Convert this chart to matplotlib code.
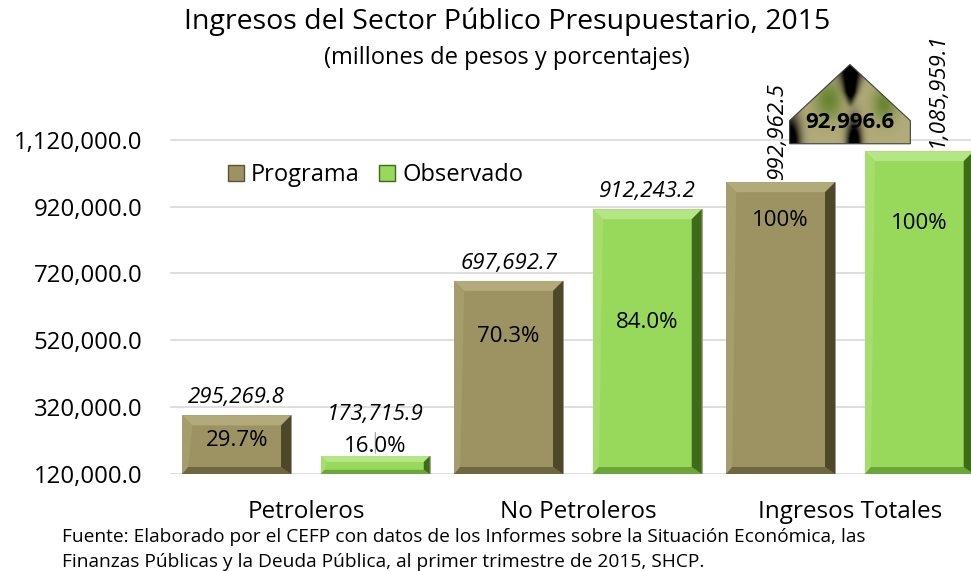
import numpy as np
import matplotlib.pyplot as plt
from matplotlib.patches import Polygon, Patch

plt.rcParams['font.family'] = ['Open Sans', 'DejaVu Sans']

categorias = ['Petroleros', 'No Petroleros', 'Ingresos Totales']
programa = [295269.8, 697692.7, 992962.5]
observado = [173715.9, 912243.2, 1085959.1]
pct_programa = ['29.7%', '70.3%', '100%']
pct_observado = ['16.0%', '84.0%', '100%']
diferencia = 92996.6
yticks = [120000, 320000, 520000, 720000, 920000, 1120000]

col_prog = '#9D9262'
col_obs = '#98D85B'
bevel_prog = ['#B3AA7A', '#A69C6C', '#6E6741', '#4E4829']   # top, left, bottom, right
bevel_obs = ['#B4E684', '#A6DE6E', '#6CA63A', '#3E6A1C']

W, H = 971, 571
fig = plt.figure(figsize=(W / 100, H / 100), dpi=100)
ax_l, ax_r, ax_b, ax_t = 170, 971, 474, 113
ax = fig.add_axes([ax_l / W, 1 - ax_b / H, (ax_r - ax_l) / W, (ax_b - ax_t) / H])

xlim = (-0.5, 2.445)
ylim = (120000, 1200000)
x = np.arange(len(categorias))
off, w = 0.255, 0.40

bars_p = ax.bar(x - off, programa, w, color=col_prog, edgecolor='#8A8A7A', lw=0.5, zorder=3)
bars_o = ax.bar(x + off, observado, w, color=col_obs, edgecolor='#8A8A7A', lw=0.5, zorder=3)

ax.set_xlim(*xlim)
ax.set_ylim(*ylim)

# bevel effect on each bar
ppx = (ax_r - ax_l) / (xlim[1] - xlim[0])
ppy = (ax_b - ax_t) / (ylim[1] - ylim[0])


def bevel(rect, cols):
    x0 = rect.get_x()
    x1 = x0 + rect.get_width()
    yb = max(rect.get_y(), ylim[0])
    yt = rect.get_y() + rect.get_height()
    hpx = (yt - yb) * ppy
    t = min(10, hpx / 3)
    tx, ty = t / ppx, t / ppy
    polys = [
        [(x0, yt), (x1, yt), (x1 - tx, yt - ty), (x0 + tx, yt - ty)],
        [(x0, yt), (x0, yb), (x0 + tx * 0.6, yb + ty * 0.7), (x0 + tx, yt - ty)],
        [(x0, yb), (x1, yb), (x1 - tx, yb + ty * 0.7), (x0 + tx * 0.6, yb + ty * 0.7)],
        [(x1, yt), (x1, yb), (x1 - tx, yb + ty * 0.7), (x1 - tx, yt - ty)],
    ]
    for p, c in zip(polys, cols):
        ax.add_patch(Polygon(p, closed=True, facecolor=c, edgecolor='none', zorder=4))


for r in bars_p:
    bevel(r, bevel_prog)
for r in bars_o:
    bevel(r, bevel_obs)

# axes styling
ax.set_yticks(yticks)
ax.set_yticklabels([f'{v:,.1f}' for v in yticks], fontsize=17.3)
ax.set_xticks(x)
ax.set_xticklabels(categorias, fontsize=17.5)
ax.tick_params(axis='y', length=0, pad=20)
ax.tick_params(axis='x', length=0, pad=19)
ax.grid(axis='y', color='#D9D9D9', lw=1.2, zorder=0)
for s in ['top', 'right', 'left', 'bottom']:
    ax.spines[s].set_visible(False)

# value labels
lbl = dict(fontsize=16, style='italic', ha='center', textcoords='offset points', zorder=6)
ax.annotate(f'{programa[0]:,.1f}', (x[0] - off, programa[0]), xytext=(0, 5), va='bottom', **lbl)
ax.annotate(f'{programa[1]:,.1f}', (x[1] - off, programa[1]), xytext=(0, 5), va='bottom', **lbl)
ax.annotate(f'{observado[1]:,.1f}', (x[1] + off, observado[1]), xytext=(0, 5), va='bottom', **lbl)
ax.annotate(f'{observado[0]:,.1f}', (x[0] + off, observado[0]), xytext=(0, 22), va='bottom', **lbl)
ax.annotate('', (x[0] + off, observado[0]), xytext=(0, 19), textcoords='offset points',
            arrowprops=dict(arrowstyle='-', color='#A0A0A0', lw=0.8), zorder=5)
ax.annotate(f'{programa[2]:,.1f}', (x[2] - off, programa[2]), xytext=(-2, 2), va='bottom',
            rotation=90, **lbl)
ax.annotate(f'{observado[2]:,.1f}', (x[2] + off, observado[2]), xytext=(13, 3), va='bottom',
            rotation=90, **lbl)

# percentage labels (position as fraction of bar height)
frac_p = [0.75, 0.76, 0.885]
frac_o = [1.16, 0.63, 0.80]
for i in range(3):
    ax.text(x[i] - off, programa[i] * frac_p[i], pct_programa[i], ha='center', va='center',
            fontsize=16, zorder=6)
    ax.text(x[i] + off, observado[i] * frac_o[i], pct_observado[i], ha='center', va='center',
            fontsize=16, zorder=6)

# difference callout (house shape with texture)
cx, hw = x[2], 0.222
yb0, ysh, yap = 1108000, 1177000, 1345000
house = Polygon([(cx - hw, yb0), (cx + hw, yb0), (cx + hw, ysh), (cx, yap), (cx - hw, ysh)],
                closed=True, facecolor='none', edgecolor='#404040', lw=0.8, zorder=8,
                clip_on=False)
ax.add_patch(house)
nx, ny = 160, 100
u, v = np.meshgrid(np.linspace(0, 1, nx), np.linspace(0, 1, ny))
tan = np.array([0.70, 0.67, 0.48])
grn = np.array([0.42, 0.52, 0.20])
g = (np.exp(-((u - 0.32) / 0.12) ** 2 - ((v - 0.55) / 0.25) ** 2)
     + np.exp(-((u - 0.78) / 0.10) ** 2 - ((v - 0.50) / 0.22) ** 2))
g = np.clip(g, 0, 1)[..., None]
img = tan * (1 - g) + grn * g
wedge = 0.02 + 0.16 * np.clip(v - 0.45, 0, None)
dark = (np.exp(-((u - 0.53) / 0.06) ** 2 - (v / 0.30) ** 2)
        + np.exp(-(u / 0.08) ** 2 - (v / 0.35) ** 2)
        + np.exp(-((u - 0.5) / wedge) ** 2) * np.clip((v - 0.45) / 0.2, 0, 1))
dark = np.clip(dark * 1.4, 0, 1)[..., None]
img = img * (1 - dark)
im = ax.imshow(img, extent=(cx - hw, cx + hw, yb0, yap), origin='lower', aspect='auto',
               zorder=7, interpolation='bilinear')
im.set_clip_path(house)
im.set_clip_box(fig.bbox)
ax.text(cx, 1172000, f'{diferencia:,.1f}', ha='center', va='center', fontsize=16,
        fontweight='bold', zorder=9, clip_on=False)
ax.set_xlim(*xlim)
ax.set_ylim(*ylim)

# legend
handles = [Patch(facecolor=col_prog, edgecolor='#5A5433'), Patch(facecolor=col_obs, edgecolor='#3E6A1C')]
ax.legend(handles, ['Programa', 'Observado'], loc='center left', bbox_to_anchor=(0.06, 0.828),
          ncol=2, frameon=False, fontsize=17, handlelength=0.7, handleheight=0.7,
          handletextpad=0.3, columnspacing=0.8, borderaxespad=0)

# titles and source
fig.text(507 / W, 1 - 22 / H, 'Ingresos del Sector Público Presupuestario, 2015',
         ha='center', va='center', fontsize=20.5)
fig.text(507 / W, 1 - 58 / H, '(millones de pesos y porcentajes)', ha='center', va='center',
         fontsize=17)
fig.text(62 / W, 1 - 537 / H,
         'Fuente: Elaborado por el CEFP con datos de los Informes sobre la Situación Económica, las',
         ha='left', va='center', fontsize=13.8)
fig.text(62 / W, 1 - 562 / H,
         'Finanzas Públicas y la Deuda Pública, al primer trimestre de 2015, SHCP.',
         ha='left', va='center', fontsize=13.8)

plt.savefig('out.png', dpi=100)
